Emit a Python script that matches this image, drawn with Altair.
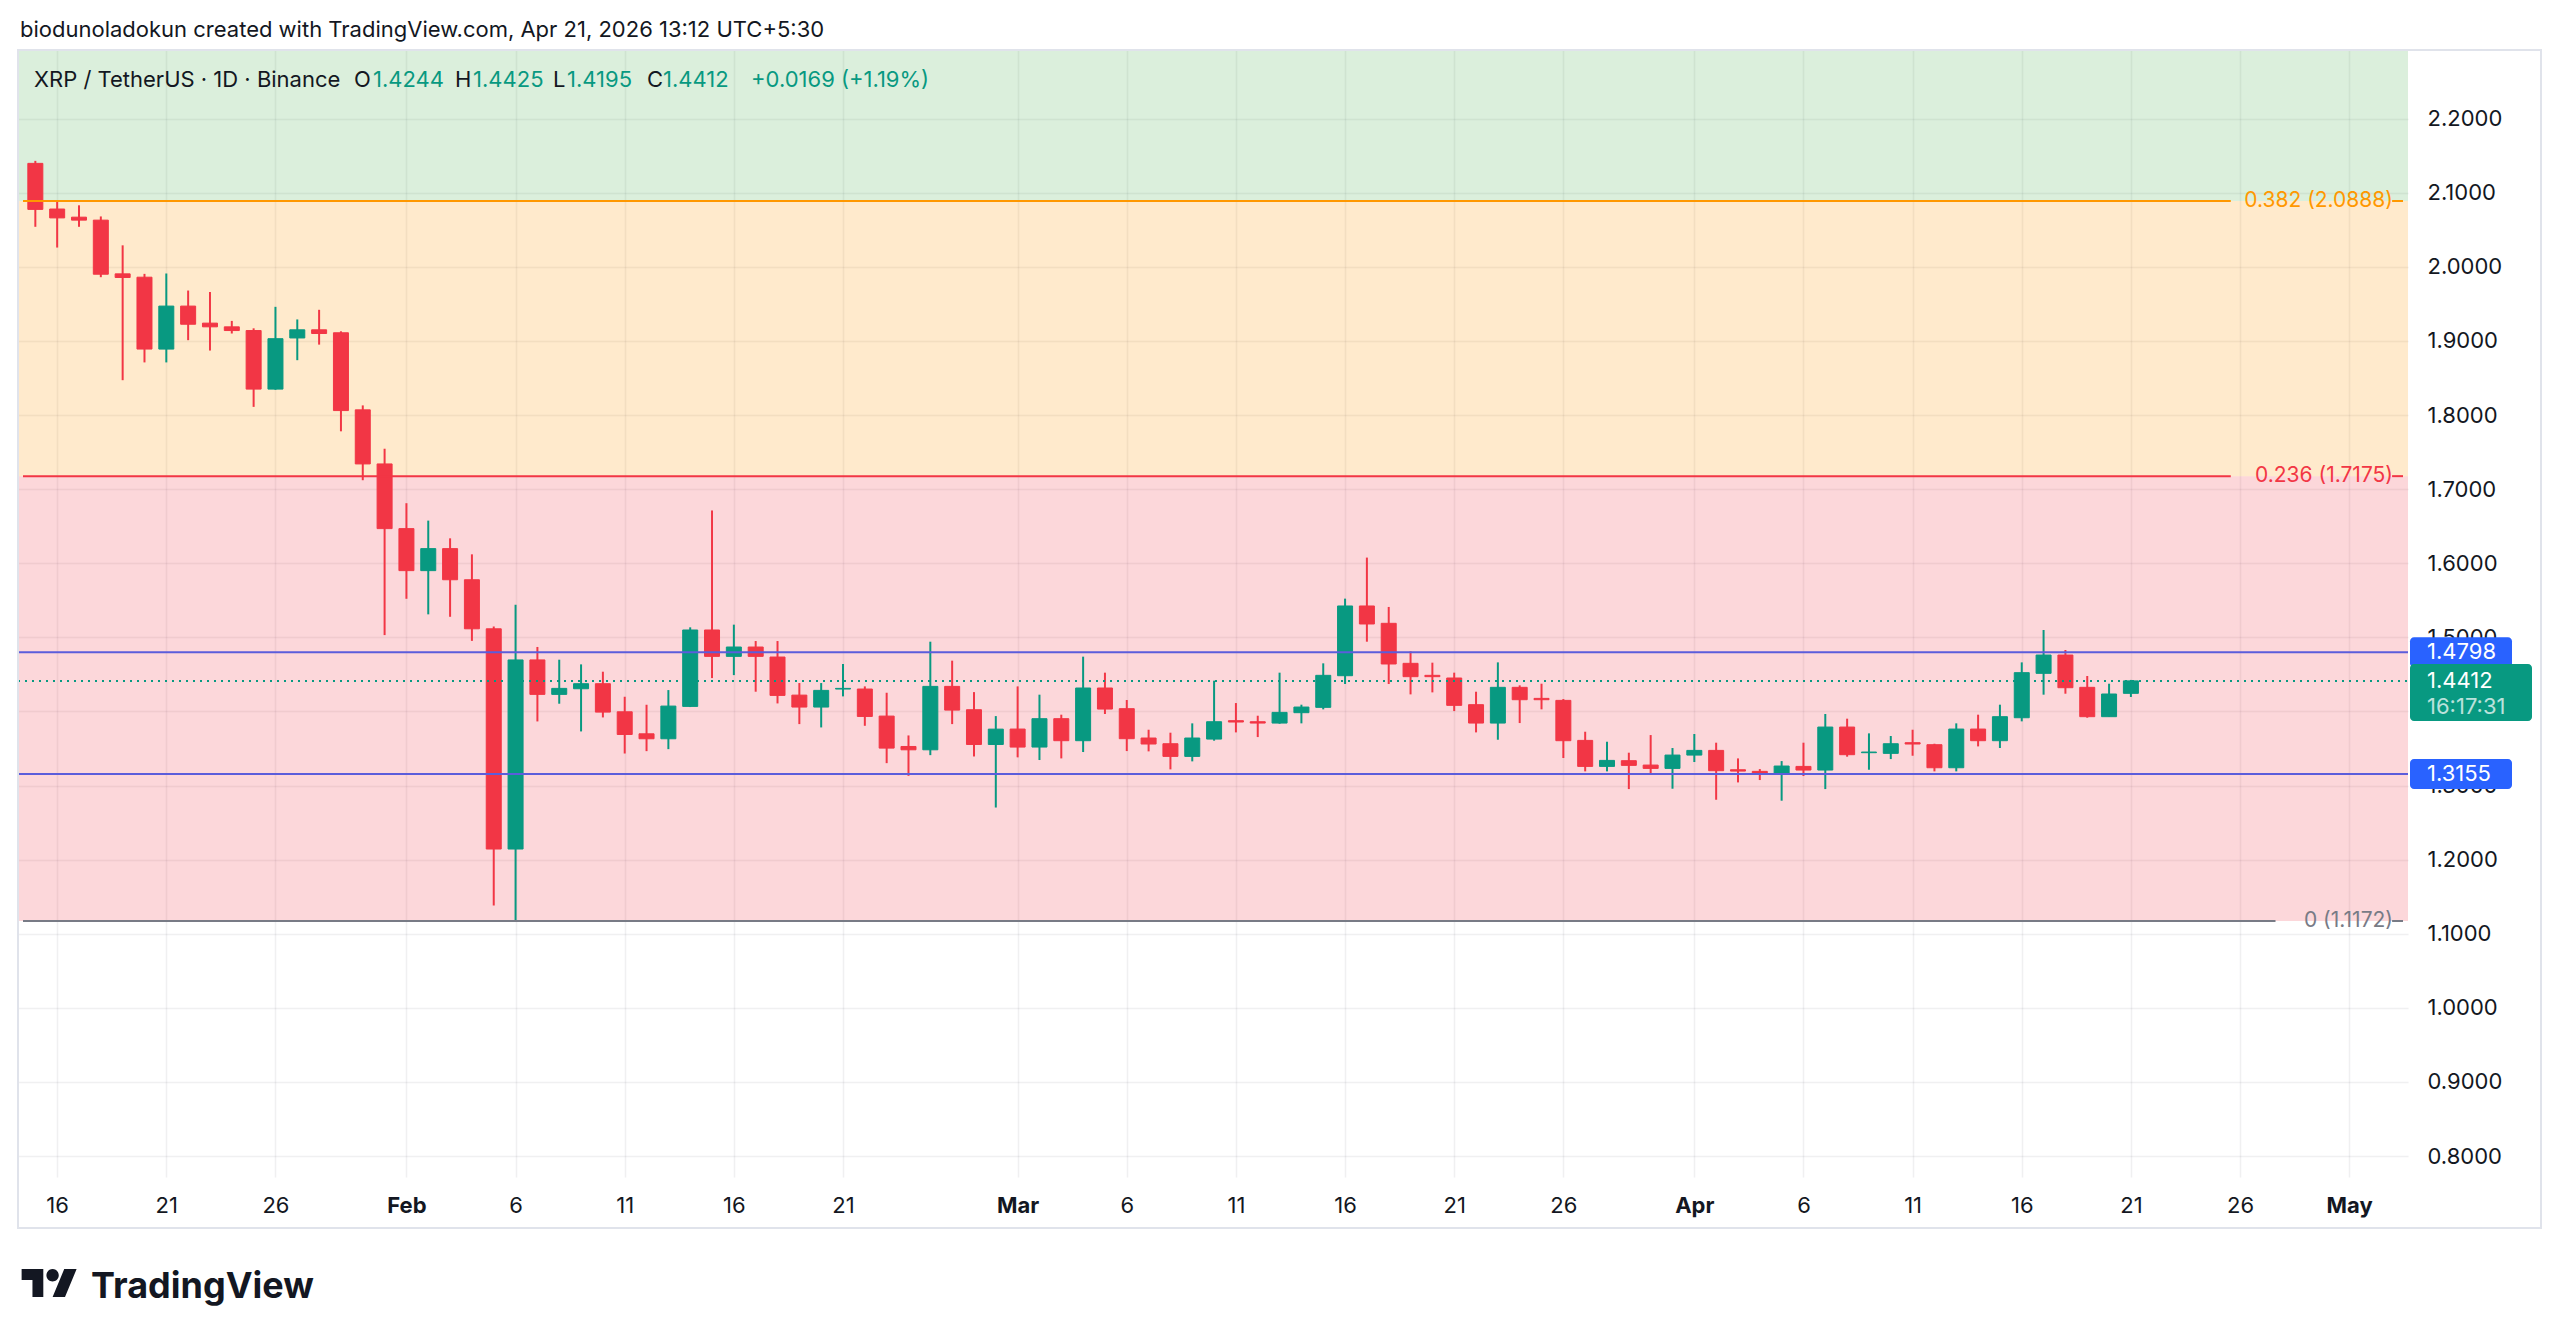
import altair as alt
import pandas as pd

# ------------------------------------------------------------------ data
dates = pd.date_range("2026-01-15", "2026-04-21", freq="D").strftime("%Y-%m-%d").tolist()

opens = [2.1396, 2.078, 2.067, 2.063, 1.9905, 1.986, 1.889, 1.947, 1.924, 1.919,
         1.914, 1.835, 1.904, 1.915, 1.911, 1.807, 1.734,
         1.6467, 1.590, 1.6197, 1.5777, 1.5115, 1.2143, 1.4695, 1.423, 1.4306, 1.4374,
         1.3995, 1.3698, 1.3631, 1.4068, 1.5099, 1.4743, 1.4869, 1.4734, 1.422, 1.4059,
         1.4302, 1.4302, 1.3937, 1.3527, 1.3482, 1.4338, 1.4023, 1.3554,
         1.3762, 1.3519, 1.3902, 1.3605, 1.4316, 1.4037, 1.3641, 1.3564, 1.3393, 1.3627,
         1.3875, 1.3861, 1.3843, 1.3983, 1.4055, 1.4482, 1.5423, 1.5189, 1.4649, 1.4487,
         1.4451, 1.4091, 1.3843, 1.4325, 1.4176, 1.4149, 1.3609, 1.3258, 1.3335, 1.3276,
         1.3231,
         1.3411, 1.3474, 1.3213, 1.3191, 1.315, 1.3258, 1.3209, 1.3789, 1.3443, 1.3434,
         1.3578, 1.3551, 1.324, 1.3762, 1.3605, 1.3915, 1.4514, 1.4761, 1.4325, 1.3929,
         1.4244]
highs = [2.143, 2.088, 2.083, 2.068, 2.029, 1.9905, 1.991, 1.968, 1.966, 1.927,
         1.917, 1.946, 1.929, 1.942, 1.913, 1.813, 1.7545,
         1.681, 1.6575, 1.6336, 1.612, 1.5146, 1.544, 1.487, 1.4698, 1.4635, 1.4536,
         1.4198, 1.409, 1.4288, 1.5135, 1.6712, 1.5171, 1.495, 1.495, 1.4383, 1.4383,
         1.464, 1.4338, 1.4252, 1.3676, 1.4941, 1.4685, 1.4261, 1.3937,
         1.4338, 1.4226, 1.3956, 1.4739, 1.4523, 1.4154, 1.3753, 1.3713, 1.3839, 1.4415,
         1.4113, 1.3942, 1.4523, 1.4091, 1.4649, 1.5522, 1.6076, 1.541, 1.4811, 1.4658,
         1.4523, 1.4266, 1.4662, 1.4352, 1.4374, 1.4167, 1.3726, 1.3591, 1.3443, 1.3681,
         1.3506,
         1.3695, 1.3578, 1.3366, 1.3222, 1.333, 1.3578, 1.3965, 1.3902, 1.3704, 1.3668,
         1.3753, 1.3564, 1.3839, 1.3956, 1.4091, 1.4662, 1.5099, 1.4829, 1.4478, 1.4374,
         1.4425]
lows = [2.054, 2.026, 2.054, 1.986, 1.847, 1.871, 1.871, 1.901, 1.887, 1.910,
        1.811, 1.834, 1.874, 1.895, 1.778, 1.712, 1.503,
        1.552, 1.531, 1.5277, 1.4952, 1.1382, 1.1172, 1.3865, 1.4104, 1.373, 1.3919,
        1.3432, 1.3464, 1.3491, 1.4059, 1.445, 1.449, 1.4266, 1.4108, 1.3829, 1.3784,
        1.4203, 1.3806, 1.3302, 1.3131, 1.341, 1.3829, 1.3392, 1.2703,
        1.338, 1.3344, 1.3366, 1.3452, 1.3965, 1.3465, 1.3461, 1.3218, 1.3326, 1.3605,
        1.3717, 1.3654, 1.3834, 1.3839, 1.4028, 1.437, 1.4941, 1.437, 1.423, 1.4257,
        1.4005, 1.3717, 1.3618, 1.3843, 1.4028, 1.3371, 1.3191, 1.3191, 1.2952, 1.3164,
        1.2957,
        1.3317, 1.2808, 1.3042, 1.3074, 1.2795, 1.3128, 1.2952, 1.3389, 1.3213, 1.3357,
        1.3402, 1.3191, 1.3191, 1.3528, 1.3506, 1.3866, 1.4226, 1.4239, 1.3915, 1.3929,
        1.4195]
closes = [2.0775, 2.066, 2.063, 1.990, 1.9856, 1.889, 1.947, 1.9225, 1.919, 1.914,
          1.835, 1.903, 1.915, 1.910, 1.806, 1.734, 1.6467,
          1.590, 1.6197, 1.5777, 1.5115, 1.2143, 1.4695, 1.423, 1.4311, 1.4374, 1.3991,
          1.3689, 1.3631, 1.4072, 1.5099, 1.4743, 1.4869, 1.4743, 1.4216, 1.4059, 1.4284,
          1.4311, 1.3932, 1.3505, 1.3482, 1.4338, 1.4018, 1.3554, 1.3761,
          1.3519, 1.3902, 1.3605, 1.4316, 1.4032, 1.3632, 1.356, 1.3393, 1.3641, 1.3861,
          1.3857, 1.3843, 1.3987, 1.4059, 1.4487, 1.5423, 1.518, 1.464, 1.4469, 1.4469,
          1.4082, 1.3843, 1.4325, 1.4158, 1.4158, 1.3605, 1.3258, 1.3339, 1.3272, 1.3231,
          1.3411,
          1.3474, 1.32, 1.3195, 1.315, 1.3263, 1.3209, 1.3789, 1.3416, 1.3452, 1.3564,
          1.356, 1.324, 1.3762, 1.3605, 1.3929, 1.4523, 1.4761, 1.432, 1.3929, 1.4235,
          1.4412]

fib_levels = ["0", "0.236", "0.382", "0.5"]
fib_prices = [1.1172, 1.7175, 2.0888, 2.389]
fib_labels = ["0 (1.1172)", "0.236 (1.7175)", "0.382 (2.0888)"]
fib_gap_start = ["2026-04-27T15:00:00Z", "2026-04-25T13:50:00Z", "2026-04-25T13:50:00Z"]
fib_gap_end = "2026-05-02T23:10:00Z"

support_resistance = [1.4798, 1.3155]
last_price = 1.4412
countdown = "16:17:31"

y_ticks = [0.8, 0.9, 1.0, 1.1, 1.2, 1.3, 1.4, 1.5, 1.6, 1.7, 1.8, 1.9, 2.0, 2.1, 2.2]
x_ticks = ["2026-01-16", "2026-01-21", "2026-01-26", "2026-02-01", "2026-02-06",
           "2026-02-11", "2026-02-16", "2026-02-21", "2026-03-01", "2026-03-06",
           "2026-03-11", "2026-03-16", "2026-03-21", "2026-03-26", "2026-04-01",
           "2026-04-06", "2026-04-11", "2026-04-16", "2026-04-21", "2026-04-26",
           "2026-05-01"]
x_start = "2026-01-14T10:26:00Z"
x_end = "2026-05-03T11:10:00Z"
y_domain = [0.7717, 2.2926]

header = "biodunoladokun created with TradingView.com, Apr 21, 2026 13:12 UTC+5:30"
symbol = "XRP / TetherUS · 1D · Binance"
ohlc_keys = ["O", "H", "L", "C"]
ohlc_vals = ["1.4244", "1.4425", "1.4195", "1.4412"]
change = "+0.0169 (+1.19%)"

# ------------------------------------------------------------------ style
FONT = "Inter"
TEXT = "#131722"
UP = "#089981"
DOWN = "#f23645"
BAND_COLORS = ["#f23645", "#ff9800", "#4caf50"]
FIB_COLORS = ["#787b86", "#f23645", "#ff9800"]
HLINE = "#5b5ddb"
BOX_BLUE = "#2962ff"
W, H = 2390, 1127


def dt(s):
    y, m, d = s[:10].split("-")
    hh, mm = 0, 0
    if "T" in s:
        hh, mm = int(s[11:13]), int(s[14:16])
    return alt.DateTime(year=int(y), month=int(m), date=int(d), hours=hh, minutes=mm, utc=True)


XS = alt.Scale(type="utc", domain=[dt(x_start), dt(x_end)])
YS = alt.Scale(domain=y_domain, nice=False, zero=False)

XA = alt.Axis(
    values=[dt(v) for v in x_ticks],
    labelExpr="utcdate(datum.value) == 1 ? utcFormat(datum.value, '%b') : utcFormat(datum.value, '%-d')",
    labelFontWeight={"condition": {"test": "utcdate(datum.value) == 1", "value": "bold"}, "value": "normal"},
    title=None, domain=False, ticks=False, tickSize=0, labelPadding=28, labelBaseline="middle",
    labelFont=FONT, labelFontSize=22, labelColor=TEXT, labelOverlap=False, labelFlush=False,
    grid=True, gridColor="#2a2e39", gridOpacity=0.07, gridWidth=1.5,
)
YA = alt.Axis(
    orient="right", values=y_ticks, format=".4f", title=None, domain=False, ticks=False,
    tickSize=0, labelPadding=19, labelAlign="left", labelBaseline="middle",
    labelFont=FONT, labelFontSize=22, labelColor=TEXT, labelOverlap=False, labelFlush=False,
    grid=True, gridColor="#2a2e39", gridOpacity=0.07, gridWidth=1.5,
)

df = pd.DataFrame({"date": dates, "open": opens, "high": highs, "low": lows, "close": closes})
df["dir"] = ["up" if c >= o else "down" for o, c in zip(opens, closes)]
dir_scale = alt.Scale(domain=["up", "down"], range=[UP, DOWN])

one = pd.DataFrame({"k": [0]})
layers = []

# fib background bands
for i in range(3):
    band = pd.DataFrame({"lo": [fib_prices[i]], "hi": [fib_prices[i + 1]]})
    layers.append(
        alt.Chart(band).mark_rect(color=BAND_COLORS[i], opacity=0.2, clip=True).encode(
            x=alt.value(0), x2=alt.value(W),
            y=alt.Y("lo:Q", scale=YS, axis=YA), y2="hi:Q",
        )
    )

# candles
base = alt.Chart(df)
layers.append(
    base.mark_rule(strokeWidth=2).encode(
        x=alt.X("date:T", scale=XS, axis=XA),
        y=alt.Y("low:Q", scale=YS, axis=YA), y2="high:Q",
        color=alt.Color("dir:N", scale=dir_scale, legend=None),
    )
)
layers.append(
    base.mark_bar(size=15, strokeWidth=1).encode(
        x=alt.X("date:T", scale=XS, axis=XA),
        y=alt.Y("open:Q", scale=YS, axis=YA), y2="close:Q",
        color=alt.Color("dir:N", scale=dir_scale, legend=None),
        stroke=alt.Stroke("dir:N", scale=dir_scale, legend=None),
    )
)

# fib lines (broken around their labels) and labels
for i in range(3):
    seg = pd.DataFrame({"x0": [x_start, fib_gap_end], "x1": [fib_gap_start[i], x_end],
                        "p": [fib_prices[i], fib_prices[i]]})
    layers.append(
        alt.Chart(seg).mark_rule(color=FIB_COLORS[i], strokeWidth=2).encode(
            x=alt.X("x0:T", scale=XS, axis=XA), x2="x1:T",
            y=alt.Y("p:Q", scale=YS, axis=YA),
        )
    )
    lab = pd.DataFrame({"p": [fib_prices[i]], "t": [fib_labels[i]]})
    layers.append(
        alt.Chart(lab).mark_text(align="right", baseline="middle", font=FONT, fontSize=21,
                                 color=FIB_COLORS[i]).encode(
            x=alt.value(W - 15), y=alt.Y("p:Q", scale=YS, axis=YA), text="t:N",
        )
    )

# horizontal support / resistance lines
hl = pd.DataFrame({"p": support_resistance})
layers.append(
    alt.Chart(hl).mark_rule(color=HLINE, strokeWidth=2).encode(
        x=alt.value(0), x2=alt.value(W), y=alt.Y("p:Q", scale=YS, axis=YA)
    )
)
# last price dotted line
lp = pd.DataFrame({"p": [last_price]})
layers.append(
    alt.Chart(lp).mark_rule(color=UP, strokeWidth=2, strokeDash=[2, 5]).encode(
        x=alt.value(0), x2=alt.value(W), y=alt.Y("p:Q", scale=YS, axis=YA)
    )
)

# price boxes on the axis
layers.append(
    alt.Chart(hl).mark_rect(color=BOX_BLUE, cornerRadius=4, yOffset=-15, y2Offset=15).encode(
        x=alt.value(W + 2), x2=alt.value(W + 104),
        y=alt.Y("p:Q", scale=YS, axis=YA), y2="p:Q",
    )
)
layers.append(
    alt.Chart(hl.assign(t=[f"{v:.4f}" for v in support_resistance])).mark_text(
        align="left", baseline="middle", font=FONT, fontSize=22, color="white").encode(
        x=alt.value(W + 19), y=alt.Y("p:Q", scale=YS, axis=YA), text="t:N",
    )
)
layers.append(
    alt.Chart(lp).mark_rect(color=UP, cornerRadius=4, yOffset=-17, y2Offset=40).encode(
        x=alt.value(W + 2), x2=alt.value(W + 124),
        y=alt.Y("p:Q", scale=YS, axis=YA), y2="p:Q",
    )
)
layers.append(
    alt.Chart(lp.assign(t=[f"{last_price:.4f}"])).mark_text(
        align="left", baseline="middle", font=FONT, fontSize=22, color="white").encode(
        x=alt.value(W + 19), y=alt.Y("p:Q", scale=YS, axis=YA), text="t:N",
    )
)
layers.append(
    alt.Chart(lp.assign(t=[countdown])).mark_text(
        align="left", baseline="middle", font=FONT, fontSize=22, color="white",
        opacity=0.72, dy=26).encode(
        x=alt.value(W + 19), y=alt.Y("p:Q", scale=YS, axis=YA), text="t:N",
    )
)


def label(text, x, y, size, color, weight="normal", align="left", baseline="alphabetic"):
    return alt.Chart(one).mark_text(
        text=text, font=FONT, fontSize=size, color=color, fontWeight=weight,
        align=align, baseline=baseline,
    ).encode(x=alt.value(x), y=alt.value(y))


# header and legend
layers.append(label(header, 2, -13, 22, TEXT))
layers.append(label(symbol, 16, 37, 22, TEXT))
key_x = [336, 437, 535, 629]
val_x = [355, 455, 549, 645]
for k, v, kx, vx in zip(ohlc_keys, ohlc_vals, key_x, val_x):
    layers.append(label(k, kx, 37, 22, TEXT))
    layers.append(label(v, vx, 37, 22, UP))
layers.append(label(change, 733, 37, 22, UP))

# frame
layers.append(
    alt.Chart(one).mark_rect(fillOpacity=0, stroke="#e0e3eb", strokeWidth=2).encode(
        x=alt.value(0), x2=alt.value(W + 133), y=alt.value(0), y2=alt.value(H + 51)
    )
)

# logo
TV_PATH = ("M-0.222,0.5 L-0.611,0.5 L-0.611,-0.111 L-1,-0.111 L-1,-0.5 L-0.222,-0.5 Z "
           "M0.556,0.5 L0.111,0.5 L0.528,-0.5 L0.972,-0.5 Z "
           "M-0.111,-0.278 A0.222,0.222 0 1,0 0.333,-0.278 A0.222,0.222 0 1,0 -0.111,-0.278 Z")
layers.append(
    alt.Chart(one).mark_point(shape=TV_PATH, size=3110, filled=True, color=TEXT, opacity=1,
                              strokeWidth=0).encode(x=alt.value(31.5), y=alt.value(1233))
)
layers.append(label("TradingView", 73, 1248, 36, TEXT, weight="bold"))

chart = alt.layer(*layers).properties(
    width=W, height=H,
    padding={"left": 10, "top": 42, "right": 140, "bottom": 150},
    autosize=alt.AutoSizeParams(type="none"),
    background="white",
).configure_view(strokeWidth=0)

chart.save("out.html", embed_options={"renderer": "svg", "actions": False})
